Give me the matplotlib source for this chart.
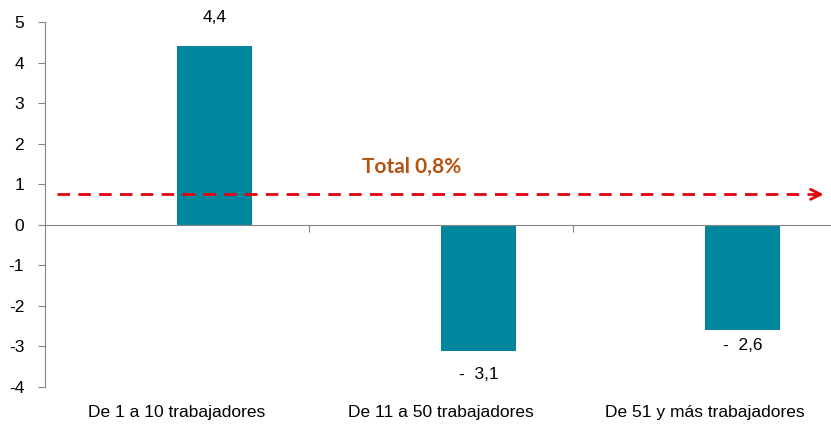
import matplotlib.pyplot as plt
from matplotlib.transforms import blended_transform_factory
import numpy as np

categories = ['De 1 a 10 trabajadores', 'De 11 a 50 trabajadores', 'De 51 y más trabajadores']
values = [4.4, -3.1, -2.6]
value_labels = ['4,4', '-  3,1', '-  2,6']
total = 0.75
total_label = 'Total 0,8%'

# label offsets (points) from the bar end, as placed in the original
label_offsets = [21, -17, -11]

bar_color = '#00879E'
red = '#E3000F'
gray = '#868686'

plt.rcParams['font.family'] = ['Liberation Sans', 'DejaVu Sans']
plt.rcParams['axes.unicode_minus'] = False

fig = plt.figure(figsize=(8.31, 4.25), dpi=100)
ax = fig.add_axes([45 / 831, 38 / 425, 792 / 831, 365 / 425])

x = np.arange(len(categories))
w = 0.284
bx = x + w / 2
ax.bar(bx, values, width=w, color=bar_color, zorder=2)

for xi, v, lab, off in zip(bx, values, value_labels, label_offsets):
    ax.annotate(lab, (xi, v), xytext=(0, off), textcoords='offset points',
                ha='center', va='center', fontsize=12.5)

# total line with arrow head
x0, x1 = -0.455, 2.45
ax.plot([x0, x1], [total, total], color=red, lw=2, dashes=(4.5, 3), zorder=3)
ax.annotate('', xy=(x1 + 0.01, total), xytext=(x1 - 0.05, total),
            arrowprops=dict(arrowstyle='->', color=red, lw=2, mutation_scale=18))
ax.text(0.89, total + 0.68, total_label, ha='center', va='center', fontsize=15,
        fontweight='bold', color='#B5530F', family=['Lato', 'DejaVu Sans'])

ax.set_xlim(-0.5, 2.5)
ax.set_ylim(-4, 5)
ax.set_yticks(range(-4, 6))
ax.tick_params(axis='y', direction='out', length=5, color=gray, labelsize=12.5, pad=10)

ax.spines['bottom'].set_position(('data', 0))
ax.spines['bottom'].set_color(gray)
ax.spines['left'].set_color(gray)
ax.spines['top'].set_visible(False)
ax.spines['right'].set_visible(False)
ax.set_xticks([0.5, 1.5])
ax.set_xticklabels([])
ax.tick_params(axis='x', direction='out', length=5, color=gray)

trans = blended_transform_factory(ax.transData, ax.transAxes)
for xi, cat in zip(x, categories):
    ax.text(xi, -0.07, cat, transform=trans, ha='center', va='center', fontsize=12.5)

fig.savefig('out.png', dpi=100)
